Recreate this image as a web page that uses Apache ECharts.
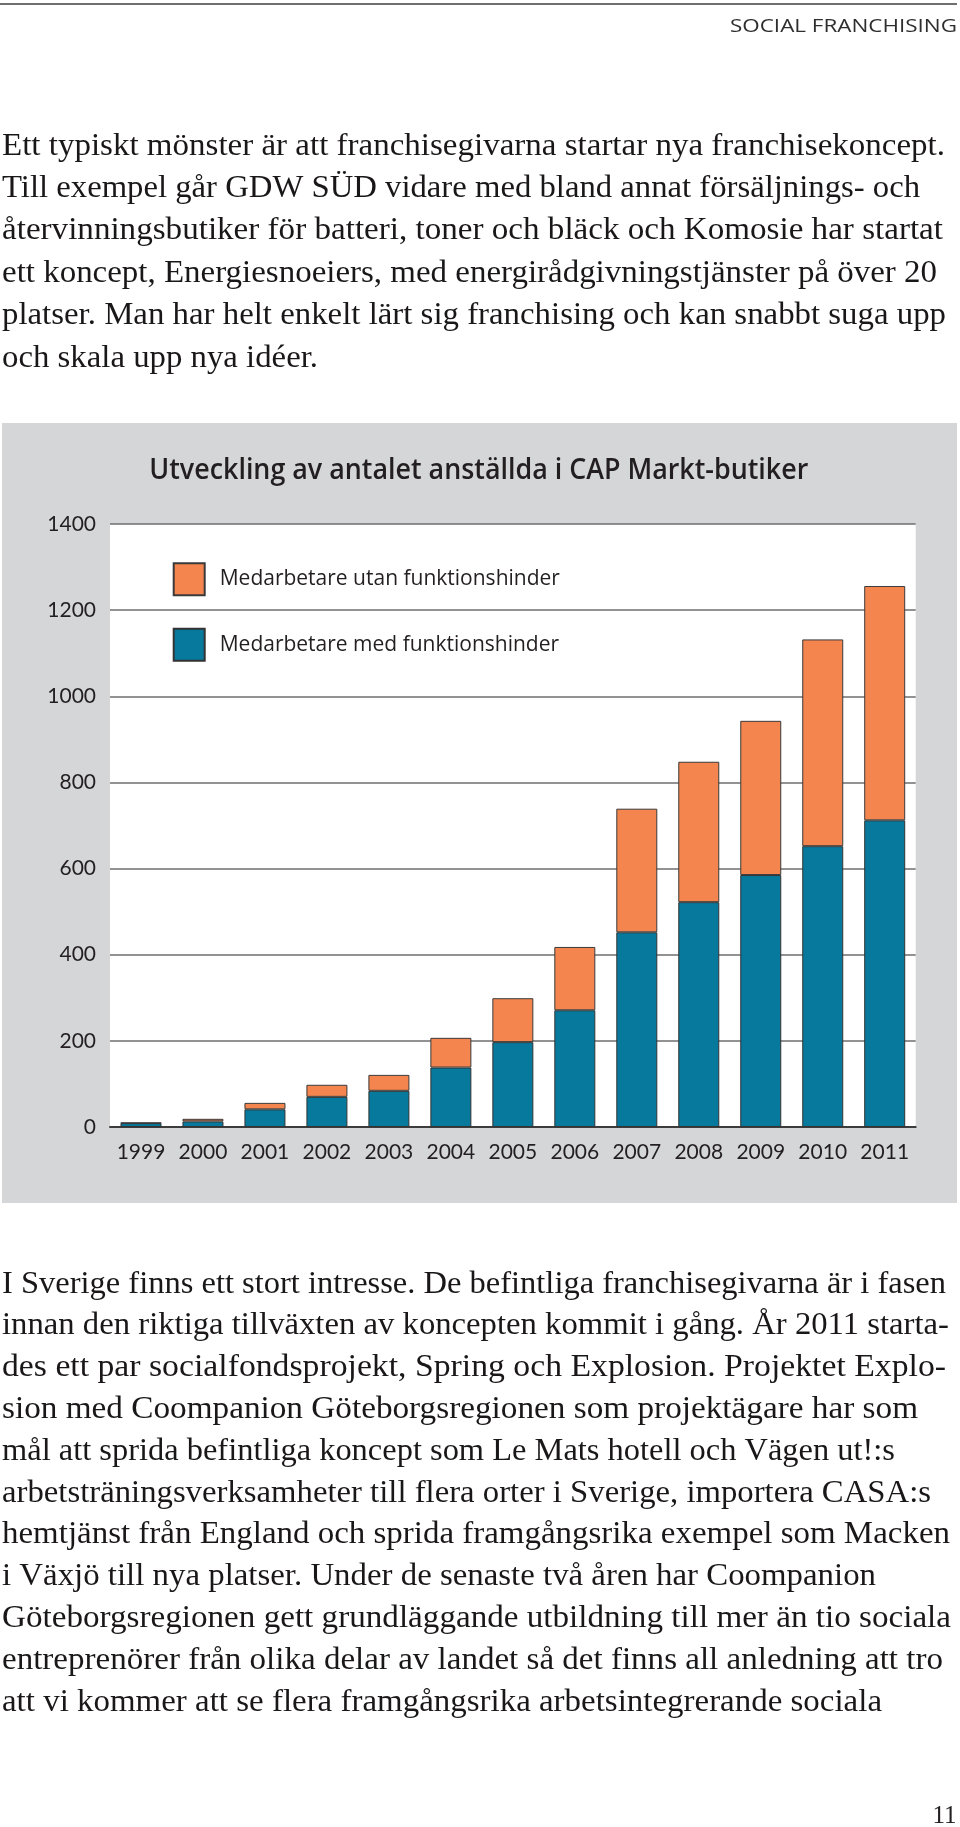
<!DOCTYPE html>
<html>
<head>
<meta charset="utf-8">
<script src="https://cdn.jsdelivr.net/npm/echarts/dist/echarts.min.js"></script>
<style>
html,body{margin:0;padding:0;background:#fff;}
#c{width:960px;height:1827px;}
</style>
</head>
<body>
<div id="c"></div>
<script>
// ---------- DATA ----------
const categories = ['1999','2000','2001','2002','2003','2004','2005','2006','2007','2008','2009','2010','2011'];
const medFunktionshinder  = [9, 13, 41, 70, 84, 138, 197, 271, 452, 522, 585, 652, 712];
const utanFunktionshinder = [1, 6, 15, 28, 37, 69, 102, 147, 287, 326, 358, 480, 544];
const yMin = 0, yMax = 1400, yInterval = 200;

const headerText = 'SOCIAL FRANCHISING';
const chartTitle = 'Utveckling av antalet anställda i CAP Markt-butiker';
const legendNames = ['Medarbetare utan funktionshinder', 'Medarbetare med funktionshinder'];
const pageNumber = '11';

const paragraph1 = [
  'Ett typiskt mönster är att franchisegivarna startar nya franchisekoncept.',
  'Till exempel går GDW SÜD vidare med bland annat försäljnings- och',
  'återvinningsbutiker för batteri, toner och bläck och Komosie har startat',
  'ett koncept, Energiesnoeiers, med energirådgivningstjänster på över 20',
  'platser. Man har helt enkelt lärt sig franchising och kan snabbt suga upp',
  'och skala upp nya idéer.'
];
const paragraph2 = [
  'I Sverige finns ett stort intresse. De befintliga franchisegivarna är i fasen',
  'innan den riktiga tillväxten av koncepten kommit i gång. År 2011 starta-',
  'des ett par socialfondsprojekt, Spring och Explosion. Projektet Explo-',
  'sion med Coompanion Göteborgsregionen som projektägare har som',
  'mål att sprida befintliga koncept som Le Mats hotell och Vägen ut!:s',
  'arbetsträningsverksamheter till flera orter i Sverige, importera CASA:s',
  'hemtjänst från England och sprida framgångsrika exempel som Macken',
  'i Växjö till nya platser. Under de senaste två åren har Coompanion',
  'Göteborgsregionen gett grundläggande utbildning till mer än tio sociala',
  'entreprenörer från olika delar av landet så det finns all anledning att tro',
  'att vi kommer att se flera framgångsrika arbetsintegrerande sociala'
];

// ---------- LAYOUT (positions / styles) ----------
const para1Layout = { x: 2, baseline: 157, step: 42.4, right: [945, 920, 943, 937, 946, 318] };
const para2Layout = { x: 2, baseline: 1295, step: 41.8, right: [946, 949, 946, 918, 895, 931, 950, 876, 951, 943, 882] };
const bodySize = 32;
const bodyFont = bodySize + 'px "Liberation Serif"';
const TEXT = '#231f20';

const mctx = document.createElement('canvas').getContext('2d');
function measure(text, font) { mctx.font = font; return mctx.measureText(text).width; }

function textEl(text, font, size, k, x, baseline, align, targetWidth, fill) {
  const s = targetWidth ? targetWidth / measure(text, font) : 1;
  return {
    type: 'text', x: x, y: baseline - k * size, scaleX: s, silent: true, z: 10,
    style: { text: text, font: font, fill: fill || TEXT,
             textAlign: align, align: align, textVerticalAlign: 'middle', verticalAlign: 'middle' }
  };
}

function build() {
  const graphics = [];
  graphics.push({ type: 'line', silent: true, z: 10, shape: { x1: 0, y1: 4, x2: 957, y2: 4 },
                  style: { stroke: '#6f6f6f', lineWidth: 2 } });
  graphics.push(textEl(headerText, '18.5px "Open Sans"', 18.5, 0.388, 957, 34, 'right', 227, '#2e2e2e'));
  paragraph1.forEach((t, i) => {
    graphics.push(textEl(t, bodyFont, bodySize, 0.3375, para1Layout.x, para1Layout.baseline + i * para1Layout.step,
      'left', para1Layout.right[i] - para1Layout.x, '#1a1718'));
  });
  paragraph2.forEach((t, i) => {
    graphics.push(textEl(t, bodyFont, bodySize, 0.3375, para2Layout.x, para2Layout.baseline + i * para2Layout.step,
      'left', para2Layout.right[i] - para2Layout.x, '#1a1718'));
  });
  graphics.push(textEl(pageNumber, '25px "Liberation Serif"', 25, 0.3375, 956.5, 1825, 'right', null));
  graphics.push({ type: 'rect', silent: true, z: -10, shape: { x: 2, y: 423, width: 955, height: 780 },
                  style: { fill: '#d5d6d8' } });
  graphics.push(textEl(chartTitle, '600 28px "Open Sans"', 28, 0.388, 149.3, 481.7, 'left', 659, '#231f20'));

  return {
    animation: false,
    backgroundColor: '#ffffff',
    textStyle: { fontFamily: 'Lato' },
    grid: { left: 110, top: 524, width: 805.7, height: 603, show: true, backgroundColor: '#ffffff', borderWidth: 0 },
    legend: {
      orient: 'vertical', left: 172.7, top: 562.3, padding: 0,
      itemWidth: 31, itemHeight: 32, itemGap: 31.4, icon: 'rect', selectedMode: false,
      data: legendNames,
      textStyle: { fontFamily: 'Open Sans', fontSize: 21, color: TEXT, padding: [0, 0, 0, 10] }
    },
    xAxis: {
      type: 'category', data: categories, boundaryGap: true,
      axisLine: { lineStyle: { color: '#3c3c3c', width: 2 } },
      axisTick: { inside: true, length: 15, interval: 0, lineStyle: { color: '#4a4a4a', width: 1.3 } },
      axisLabel: { fontFamily: 'Lato', fontSize: 21, color: TEXT, margin: 15, interval: 0 },
      splitLine: { show: false }
    },
    yAxis: {
      type: 'value', min: yMin, max: yMax, interval: yInterval,
      axisLine: { show: false }, axisTick: { show: false },
      axisLabel: { fontFamily: 'Lato', fontSize: 21, color: TEXT, margin: 14, formatter: v => String(v) },
      splitLine: { lineStyle: { color: '#6e6e6e', width: 1.5 } }
    },
    series: [
      { name: legendNames[1], type: 'bar', stack: 'total', data: medFunktionshinder, barWidth: 41,
        itemStyle: { color: '#07799c', borderColor: '#333333', borderWidth: 1 } },
      { name: legendNames[0], type: 'bar', stack: 'total', data: utanFunktionshinder, barWidth: 41,
        itemStyle: { color: '#f4854e', borderColor: '#3a3a3a', borderWidth: 1 } }
    ],
    graphic: { elements: graphics }
  };
}

const chart = echarts.init(document.getElementById('c'), null, { renderer: 'canvas', width: 960, height: 1827 });
chart.setOption(build());
</script>
</body>
</html>
